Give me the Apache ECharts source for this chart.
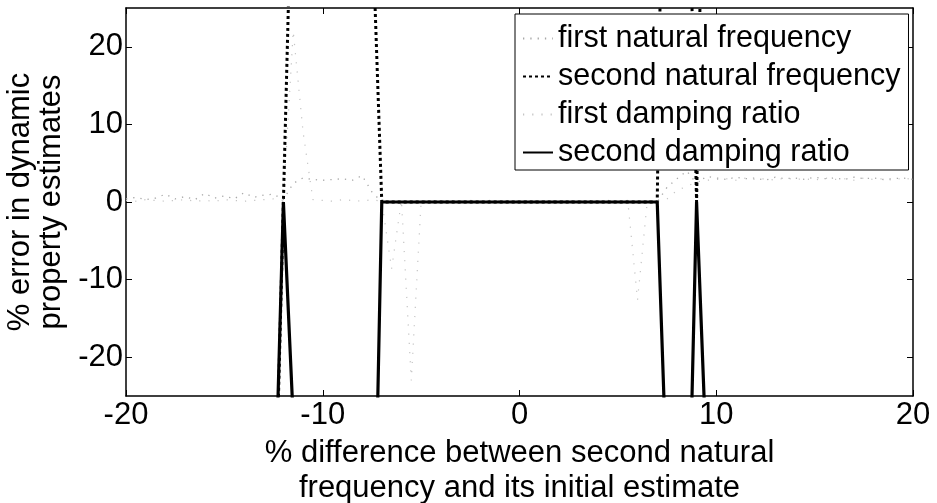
<!DOCTYPE html>
<html>
<head>
<meta charset="utf-8">
<script src="https://cdn.jsdelivr.net/npm/echarts@6/dist/echarts.min.js"></script>
<style>
  html, body { margin: 0; padding: 0; background: #fff; }
  #chart { width: 937px; height: 503px; }
</style>
</head>
<body>
<div id="chart"></div>
<script>
// Percentage offset of the second natural frequency from its initial estimate
const offsets = [-20, -19.5, -19, -18.5, -18, -17.5, -17, -16.5, -16, -15.5, -15, -14.5, -14, -13.5, -13, -12.5,
  -12, -11.5, -11, -10.5, -10, -9.5, -9, -8.5, -8, -7.5, -7, -6.5, -6, -5.5, -5, -4.5, -4, -3.5, -3, -2.5,
  -2, -1.5, -1, -0.5, 0, 0.5, 1, 1.5, 2, 2.5, 3, 3.5, 4, 4.5, 5, 5.5, 6, 6.5, 7, 7.5, 8, 8.5, 9, 9.5,
  10, 10.5, 11, 11.5, 12, 12.5, 13, 13.5, 14, 14.5, 15, 15.5, 16, 16.5, 17, 17.5, 18, 18.5, 19, 19.5, 20];

// % error of each identified property
const firstFreqError = [0.4, 0.6, 0.3, 0.5, 1.0, 0.4, 0.7, 0.3, 1.1, 0.5, 0.8, 0.4, 1.2, 0.6, 0.9, 1.0,
  0.3, 2.4, 3.1, 2.9, 2.8, 2.9, 3.0, 2.8, 3.4, 1.3, 0, 0, 0, 0, 0, 0, 0, 0, 0, 0,
  0, 0, 0, 0, 0, 0, 0, 0, 0, 0, 0, 0, 0, 0, 0, 0, 0, 0, 0, 1.9, 3.0, 4.0, 2.4, 3.3,
  3.1, 2.9, 3.2, 3.0, 3.1, 2.8, 3.2, 3.0, 3.1, 2.9, 3.2, 3.0, 3.1, 2.9, 3.2, 3.0, 3.1, 2.9, 3.0, 3.1, 2.9];
const secondFreqError = [-80, -80, -80, -80, -80, -80, -80, -80, -80, -80, -80, -80, -80, -80, -80, -50,
  0, 50, 80, 80, 80, 80, 80, 80, 80, 37, 0, 0, 0, 0, 0, 0, 0, 0, 0, 0,
  0, 0, 0, 0, 0, 0, 0, 0, 0, 0, 0, 0, 0, 0, 0, 0, 0, 0, 0, 89, 150, 54, 0, 73,
  80, 80, 80, 80, 80, 80, 80, 80, 80, 80, 80, 80, 80, 80, 80, 80, 80, 80, 80, 80, 80];
const firstDampError = [0.2, 0.1, 0.3, 0.2, 0.1, 0.2, 0.3, 0.1, 0.2, 0.1, 0.3, 0.2, 0.1, 0.2, 0.3, 0.4,
  0.2, 22, 9, 0.3, 0.2, 0.1, 0.3, 0.2, 0.1, 0.3, 0.1, -8.6, 0.2, -23, 0.1, 0.2, 0.1, 0.2, 0.1, 0.2,
  0.1, 0.2, 0.1, 0.2, 0.1, 0.2, 0.1, 0.2, 0.1, 0.2, 0.1, 0.2, 0.1, 0.2, 0.1, 0.2, -12.6, 0.2, 0.1, 0.4, 1.5, 2.0, 2.6, 2.8,
  2.9, 3.0, 2.8, 3.1, 2.9, 3.0, 2.8, 3.1, 2.9, 3.0, 2.8, 3.1, 2.9, 3.0, 2.8, 3.1, 2.9, 3.0, 2.8, 3.1, 2.9];
const secondDampError = [-90, -90, -90, -90, -90, -90, -90, -90, -90, -90, -90, -90, -90, -90, -90, -46,
  0, -28, -90, -90, -90, -90, -90, -90, -90, -62.5, 0, 0, 0, 0, 0, 0, 0, 0, 0, 0,
  0, 0, 0, 0, 0, 0, 0, 0, 0, 0, 0, 0, 0, 0, 0, 0, 0, 0, 0, -37, -90, -54, 0, -33,
  -90, -90, -90, -90, -90, -90, -90, -90, -90, -90, -90, -90, -90, -90, -90, -90, -90, -90, -90, -90, -90];

const xTicks = [-20, -10, 0, 10, 20];
const yTicks = [-20, -10, 0, 10, 20];

const seriesNames = ['first natural frequency', 'second natural frequency', 'first damping ratio', 'second damping ratio'];

const pairs = (ys) => offsets.map((x, i) => [x, ys[i]]);

const FONT = '"Liberation Sans", Arial, Helvetica, sans-serif';
const chart = echarts.init(document.getElementById('chart'), null, { renderer: 'canvas' });

const axisCommon = {
  type: 'value',
  axisLine: { show: true, onZero: false, lineStyle: { color: '#000', width: 1.5 } },
  axisTick: { show: true, inside: true, length: 6, lineStyle: { color: '#000', width: 1 } },
  splitLine: { show: false }
};

chart.setOption({
  animation: false,
  backgroundColor: '#fff',
  textStyle: { fontFamily: FONT },
  grid: { left: 126, right: 24, top: 8, bottom: 107, containLabel: false, outerBoundsMode: 'none' },
  legend: {
    orient: 'vertical',
    left: 515,
    top: 14,
    data: seriesNames,
    itemWidth: 30,
    itemHeight: 14,
    itemGap: 7,
    padding: [9, 8, 2, 7],
    borderColor: '#000',
    borderWidth: 1,
    backgroundColor: '#fff',
    itemStyle: { opacity: 0 },
    textStyle: { fontFamily: FONT, fontSize: 30.5, lineHeight: 30, color: '#000' }
  },
  xAxis: [
    Object.assign({}, axisCommon, {
      min: -20, max: 20, position: 'bottom',
      axisTick: Object.assign({}, axisCommon.axisTick, { customValues: xTicks }),
      axisLabel: { customValues: xTicks, fontSize: 31, color: '#000', margin: 4, fontFamily: FONT },
      name: '% difference between second natural\nfrequency and its initial estimate',
      nameLocation: 'middle',
      nameGap: 29,
      nameTextStyle: { fontSize: 31, color: '#000', lineHeight: 35, fontFamily: FONT, verticalAlign: 'top' }
    }),
    Object.assign({}, axisCommon, {
      min: -20, max: 20, position: 'top',
      axisTick: Object.assign({}, axisCommon.axisTick, { customValues: xTicks }),
      axisLabel: { show: false }
    })
  ],
  yAxis: [
    Object.assign({}, axisCommon, {
      min: -25, max: 25, position: 'left',
      axisTick: Object.assign({}, axisCommon.axisTick, { customValues: yTicks }),
      axisLabel: { customValues: yTicks, fontSize: 31, color: '#000', margin: 3, fontFamily: FONT },
      name: '% error in dynamic\nproperty estimates',
      nameLocation: 'middle',
      nameGap: 49,
      nameRotate: 90,
      nameTextStyle: { fontSize: 31, color: '#000', lineHeight: 31, fontFamily: FONT }
    }),
    Object.assign({}, axisCommon, {
      min: -25, max: 25, position: 'right',
      axisTick: Object.assign({}, axisCommon.axisTick, { customValues: yTicks }),
      axisLabel: { show: false }
    })
  ],
  series: [
    {
      name: seriesNames[0], type: 'line', data: pairs(firstFreqError),
      showSymbol: false, clip: true, z: 2,
      lineStyle: { color: '#a8a8a8', width: 1.3, type: [1.3, 6] },
      itemStyle: { color: '#a8a8a8' }
    },
    {
      name: seriesNames[1], type: 'line', data: pairs(secondFreqError),
      showSymbol: false, clip: true, z: 3,
      lineStyle: { color: '#000', width: 3, type: [3, 3] },
      itemStyle: { color: '#000' }
    },
    {
      name: seriesNames[2], type: 'line', data: pairs(firstDampError),
      showSymbol: false, clip: true, z: 2,
      lineStyle: { color: '#c4c4c4', width: 1.2, type: [1.2, 8] },
      itemStyle: { color: '#c4c4c4' }
    },
    {
      name: seriesNames[3], type: 'line', data: pairs(secondDampError),
      showSymbol: false, clip: true, z: 4,
      lineStyle: { color: '#000', width: 3.2 },
      itemStyle: { color: '#000' }
    }
  ]
});
</script>
</body>
</html>
